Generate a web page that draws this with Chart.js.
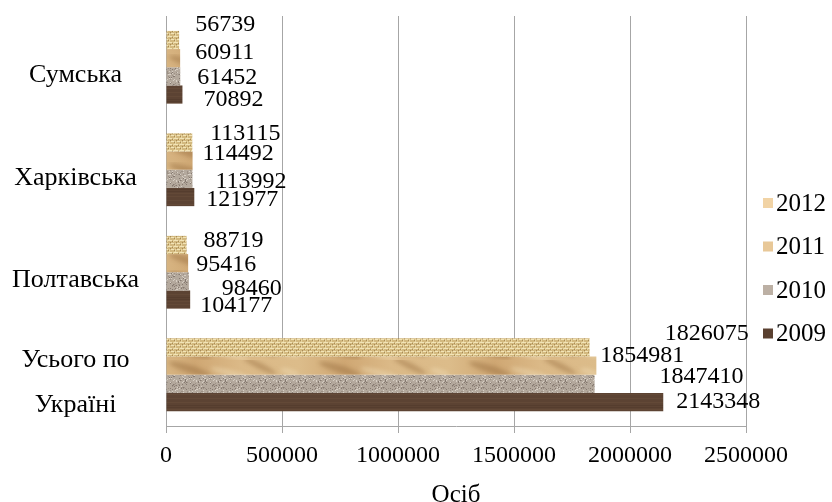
<!DOCTYPE html>
<html lang="uk">
<head>
  <meta charset="UTF-8" />
  <title>Осіб</title>
  <script src="https://cdn.jsdelivr.net/npm/chart.js"></script>
  <style>
    * { margin: 0; padding: 0; box-sizing: border-box; }
    body { background: #fff; overflow: hidden; width: 832px; height: 502px; }
    .wrap { position: absolute; left: 0; top: 0; width: 832px; height: 510px; }
  </style>
</head>
<body>
  <div class="wrap"><canvas id="chart"></canvas></div>

  <script>
    const categories = ['Сумська', 'Харківська', 'Полтавська', ['Усього по', 'Україні']];
    const years = ['2012', '2011', '2010', '2009'];
    const values2012 = [56739, 113115, 88719, 1826075];
    const values2011 = [60911, 114492, 95416, 1854981];
    const values2010 = [61452, 113992, 98460, 1847410];
    const values2009 = [70892, 121977, 104177, 2143348];
    const axisTitle = 'Осіб';

    const canvas = document.getElementById('chart');
    const ctx = canvas.getContext('2d');

    // little texture tiles, drawn by hand so every run looks the same
    function makePattern(w, h, draw) {
      const tile = document.createElement('canvas');
      tile.width = w;
      tile.height = h;
      draw(tile.getContext('2d'), w, h);
      return ctx.createPattern(tile, 'repeat');
    }

    const burlap = makePattern(6, 6, (c) => {
      c.fillStyle = '#d3b97f'; c.fillRect(0, 0, 6, 6);
      c.fillStyle = '#f2e4b8';
      c.fillRect(0, 0, 4, 1); c.fillRect(3, 3, 3, 1);
      c.fillStyle = '#e8d6a2';
      c.fillRect(5, 0, 1, 2); c.fillRect(1, 3, 1, 3);
      c.fillStyle = '#a88a56';
      c.fillRect(4, 1, 1, 1); c.fillRect(0, 4, 1, 1); c.fillRect(2, 2, 1, 1);
    });

    const sand = makePattern(150, 18, (c) => {
      const g = c.createLinearGradient(0, 0, 150, 0);
      g.addColorStop(0, '#dcbc8a');
      g.addColorStop(0.3, '#cfa773');
      g.addColorStop(0.6, '#dbb987');
      g.addColorStop(1, '#dcbc8a');
      c.fillStyle = g; c.fillRect(0, 0, 150, 18);
      c.filter = 'blur(2px)';
      c.fillStyle = 'rgba(150, 108, 62, 0.45)';
      c.beginPath(); c.ellipse(40, 9, 22, 4, 0.3, 0, Math.PI * 2); c.fill();
      c.beginPath(); c.ellipse(110, 6, 18, 3, 0.45, 0, Math.PI * 2); c.fill();
      c.fillStyle = 'rgba(240, 220, 180, 0.5)';
      c.beginPath(); c.ellipse(80, 13, 20, 3, 0.25, 0, Math.PI * 2); c.fill();
      c.beginPath(); c.ellipse(140, 12, 10, 3, 0.3, 0, Math.PI * 2); c.fill();
    });

    const granite = makePattern(20, 20, (c) => {
      c.fillStyle = '#b4a99d'; c.fillRect(0, 0, 20, 20);
      const tones = ['#857970', '#d6cec4', '#9d9186'];
      for (let i = 0; i < 110; i++) {
        const x = (i * 7 + (i * i) % 13) % 20;
        const y = (i * 11 + (i * i * 3) % 17) % 20;
        c.fillStyle = tones[i % 3];
        c.fillRect(x, y, 1, 1);
      }
    });

    const wood = makePattern(64, 18, (c) => {
      c.fillStyle = '#5c4333'; c.fillRect(0, 0, 64, 18);
      c.fillStyle = '#634937';
      [2, 6, 13, 16].forEach(y => c.fillRect(0, y, 64, 1));
      c.fillStyle = '#553d2e';
      [9, 11].forEach(y => c.fillRect(0, y, 64, 1));
    });

    const legendColors = ['#f1d3a5', '#e8c898', '#bcb0a4', '#5a4030'];

    // nudges of each value label from the end of its bar [dx, dy], per year then per region
    const labelShift = [
      [[16, -15], [18, -9], [17, -4], [75, -14]],
      [[15, -5], [10, -7], [8, 2], [4, -10]],
      [[17, 1], [23, 3], [33, 7], [65, -7]],
      [[21, 5], [12, 3], [10, 6], [13, 0]]
    ];

    const valueLabels = {
      id: 'valueLabels',
      afterDatasetsDraw(chart) {
        const c = chart.ctx;
        c.save();
        c.font = '24px "Liberation Serif", serif';
        c.fillStyle = '#000';
        c.textAlign = 'left';
        c.textBaseline = 'middle';
        chart.data.datasets.forEach((ds, i) => {
          chart.getDatasetMeta(i).data.forEach((bar, j) => {
            const [dx, dy] = labelShift[i][j];
            c.fillText(String(ds.data[j]), bar.x + dx, bar.y + dy);
          });
        });
        c.restore();
      }
    };

    const sideLegend = {
      id: 'sideLegend',
      afterDraw(chart) {
        const c = chart.ctx;
        const left = chart.chartArea.right + 17;
        c.save();
        c.font = '25px "Liberation Serif", serif';
        c.textBaseline = 'middle';
        c.textAlign = 'left';
        chart.data.datasets.forEach((ds, i) => {
          const y = 203 + i * 43.5;
          c.fillStyle = legendColors[i];
          c.fillRect(left, y - 5, 10, 10);
          c.fillStyle = '#000';
          c.fillText(ds.label, left + 13, y + 1);
        });
        c.restore();
      }
    };

    Chart.defaults.font.family = '"Liberation Serif", "Times New Roman", serif';
    Chart.defaults.font.size = 24;
    Chart.defaults.color = '#000';

    new Chart(ctx, {
      type: 'bar',
      data: {
        labels: categories,
        datasets: [
          { label: years[0], data: values2012, backgroundColor: burlap },
          { label: years[1], data: values2011, backgroundColor: sand },
          { label: years[2], data: values2010, backgroundColor: granite },
          { label: years[3], data: values2009, backgroundColor: wood }
        ]
      },
      options: {
        indexAxis: 'y',
        responsive: true,
        maintainAspectRatio: false,
        animation: false,
        categoryPercentage: 0.71,
        barPercentage: 1,
        layout: { padding: { top: 16, right: 86, bottom: 0, left: 0 } },
        plugins: {
          legend: { display: false },
          tooltip: { enabled: false }
        },
        scales: {
          x: {
            min: 0,
            max: 2500000,
            afterFit(scale) { scale.height = 84; },
            ticks: {
              stepSize: 500000,
              padding: 8,
              maxRotation: 0,
              callback: v => String(v)
            },
            grid: { color: '#a6a6a6', tickLength: 7 },
            border: { color: '#a6a6a6' },
            title: { display: true, text: axisTitle, font: { size: 25 }, padding: { top: 0, bottom: 0 } }
          },
          y: {
            afterFit(scale) {
              scale.width = 166;
              scale.paddingTop = 0;
              scale.paddingBottom = 0;
            },
            grid: { display: false },
            border: { display: false },
            ticks: {
              autoSkip: false,
              crossAlign: 'center',
              padding: 19,
              labelOffset: 8,
              font: { size: 26, lineHeight: 1.75 }
            }
          }
        }
      },
      plugins: [valueLabels, sideLegend]
    });
  </script>
</body>
</html>
